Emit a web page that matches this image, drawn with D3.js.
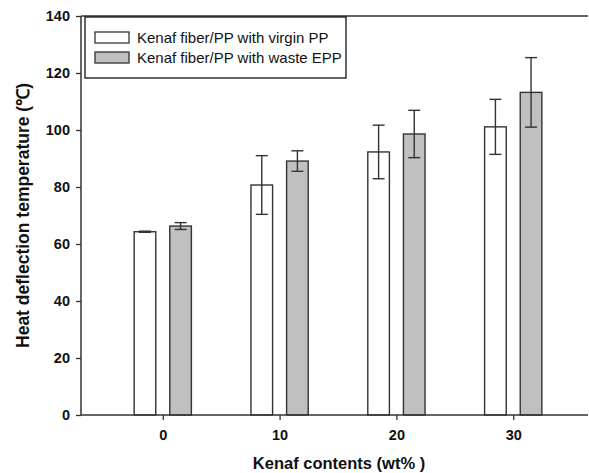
<!DOCTYPE html>
<html>
<head>
<meta charset="utf-8">
<script src="https://cdn.jsdelivr.net/npm/d3@7"></script>
<style>
  body { margin: 0; background: #fff; }
  text { font-family: "Liberation Sans", Arial, sans-serif; }
</style>
</head>
<body>
<svg id="chart" width="589" height="473"></svg>
<script>
// -----------
// DATOS
// -----------
const categorias = [0, 10, 20, 30];
const virgen = [64.3, 80.7, 92.3, 101.1];
const virgenErr = [0.2, 10.3, 9.4, 9.65];
const residuo = [66.3, 89.1, 98.6, 113.2];
const residuoErr = [1.2, 3.6, 8.3, 12.2];
const yTicks = [0, 20, 40, 60, 80, 100, 120, 140];
const series = [
  { nombre: 'Kenaf fiber/PP with virgin PP', valores: virgen, errores: virgenErr, color: '#ffffff', lado: -1 },
  { nombre: 'Kenaf fiber/PP with waste EPP', valores: residuo, errores: residuoErr, color: '#c0c0c0', lado: 1 },
];

const margin = { top: 16, right: 1, bottom: 58, left: 81 };
const width = 589;
const height = 473;
const svg = d3.select('#chart');

const x = d3.scaleLinear().domain([-7, 36.4]).range([margin.left, width - margin.right]);
const y = d3.scaleLinear().domain([0, 140]).range([height - margin.bottom, margin.top]);

const barW = 1.85;   // ancho de barra en unidades de x
const gapIn = 0.6;   // separación al centro
const stroke = '#333';

// marco superior
svg.append('line')
  .attr('x1', x(-7)).attr('x2', x(36.4))
  .attr('y1', y(140)).attr('y2', y(140))
  .attr('stroke', stroke).attr('stroke-width', 1.5);

// barras
series.forEach((s) => {
  const g = svg.append('g');
  categorias.forEach((c, i) => {
    const x0 = s.lado < 0 ? c - gapIn - barW : c + gapIn;
    g.append('rect')
      .attr('x', x(x0))
      .attr('y', y(s.valores[i]))
      .attr('width', x(x0 + barW) - x(x0))
      .attr('height', y(0) - y(s.valores[i]))
      .attr('fill', s.color)
      .attr('stroke', stroke)
      .attr('stroke-width', 1.4);
    // barras de error
    const cx = x(x0 + barW / 2);
    const hi = y(s.valores[i] + s.errores[i]);
    const lo = y(s.valores[i] - s.errores[i]);
    g.append('line').attr('x1', cx).attr('x2', cx).attr('y1', hi).attr('y2', lo)
      .attr('stroke', stroke).attr('stroke-width', 1.4);
    [hi, lo].forEach((yy) => {
      g.append('line').attr('x1', cx - 6).attr('x2', cx + 6).attr('y1', yy).attr('y2', yy)
        .attr('stroke', stroke).attr('stroke-width', 1.4);
    });
  });
});

// ejes
const yAxis = svg.append('g')
  .attr('transform', `translate(${margin.left},0)`)
  .call(d3.axisLeft(y).tickValues(yTicks).tickSize(5).tickPadding(6).tickFormat(d3.format('d')));
const xAxis = svg.append('g')
  .attr('transform', `translate(0,${height - margin.bottom})`)
  .call(d3.axisBottom(x).tickValues(categorias).tickSize(5).tickPadding(10).tickFormat(d3.format('d')));

[yAxis, xAxis].forEach((a) => {
  a.select('.domain').attr('stroke', stroke).attr('stroke-width', 1.5);
  a.selectAll('.tick line').attr('stroke', stroke).attr('stroke-width', 1.3);
  a.selectAll('.tick text')
    .attr('fill', '#111')
    .style('font-family', '"Liberation Sans", Arial, sans-serif')
    .style('font-size', '14.5px')
    .style('font-weight', 'bold');
});
xAxis.select('.domain').attr('d', `M${x(-7)},0H${x(36.4)}`);
yAxis.select('.domain').attr('d', `M0,${y(140)}V${y(0)}`);

// títulos
svg.append('text')
  .attr('x', 339)
  .attr('y', 469)
  .attr('text-anchor', 'middle')
  .style('font-size', '16.5px')
  .style('font-weight', 'bold')
  .attr('fill', '#111')
  .text('Kenaf contents (wt% )');

svg.append('text')
  .attr('transform', `translate(29,${(y(0) + y(140)) / 2}) rotate(-90)`)
  .attr('text-anchor', 'middle')
  .style('font-size', '17.5px')
  .style('font-weight', 'bold')
  .attr('fill', '#111')
  .text('Heat deflection temperature (℃)');

// leyenda
const leyenda = svg.append('g').attr('transform', 'translate(85,17)');
leyenda.append('rect')
  .attr('width', 261).attr('height', 61)
  .attr('fill', '#fff').attr('stroke', '#111').attr('stroke-width', 1.3);
series.forEach((s, i) => {
  const row = leyenda.append('g').attr('transform', `translate(10,${15 + i * 20})`);
  row.append('rect')
    .attr('width', 34).attr('height', 11)
    .attr('fill', s.color).attr('stroke', stroke).attr('stroke-width', 1.3);
  row.append('text')
    .attr('x', 42).attr('y', 11)
    .style('font-size', '15px')
    .attr('fill', '#111')
    .text(s.nombre);
});
</script>
</body>
</html>
